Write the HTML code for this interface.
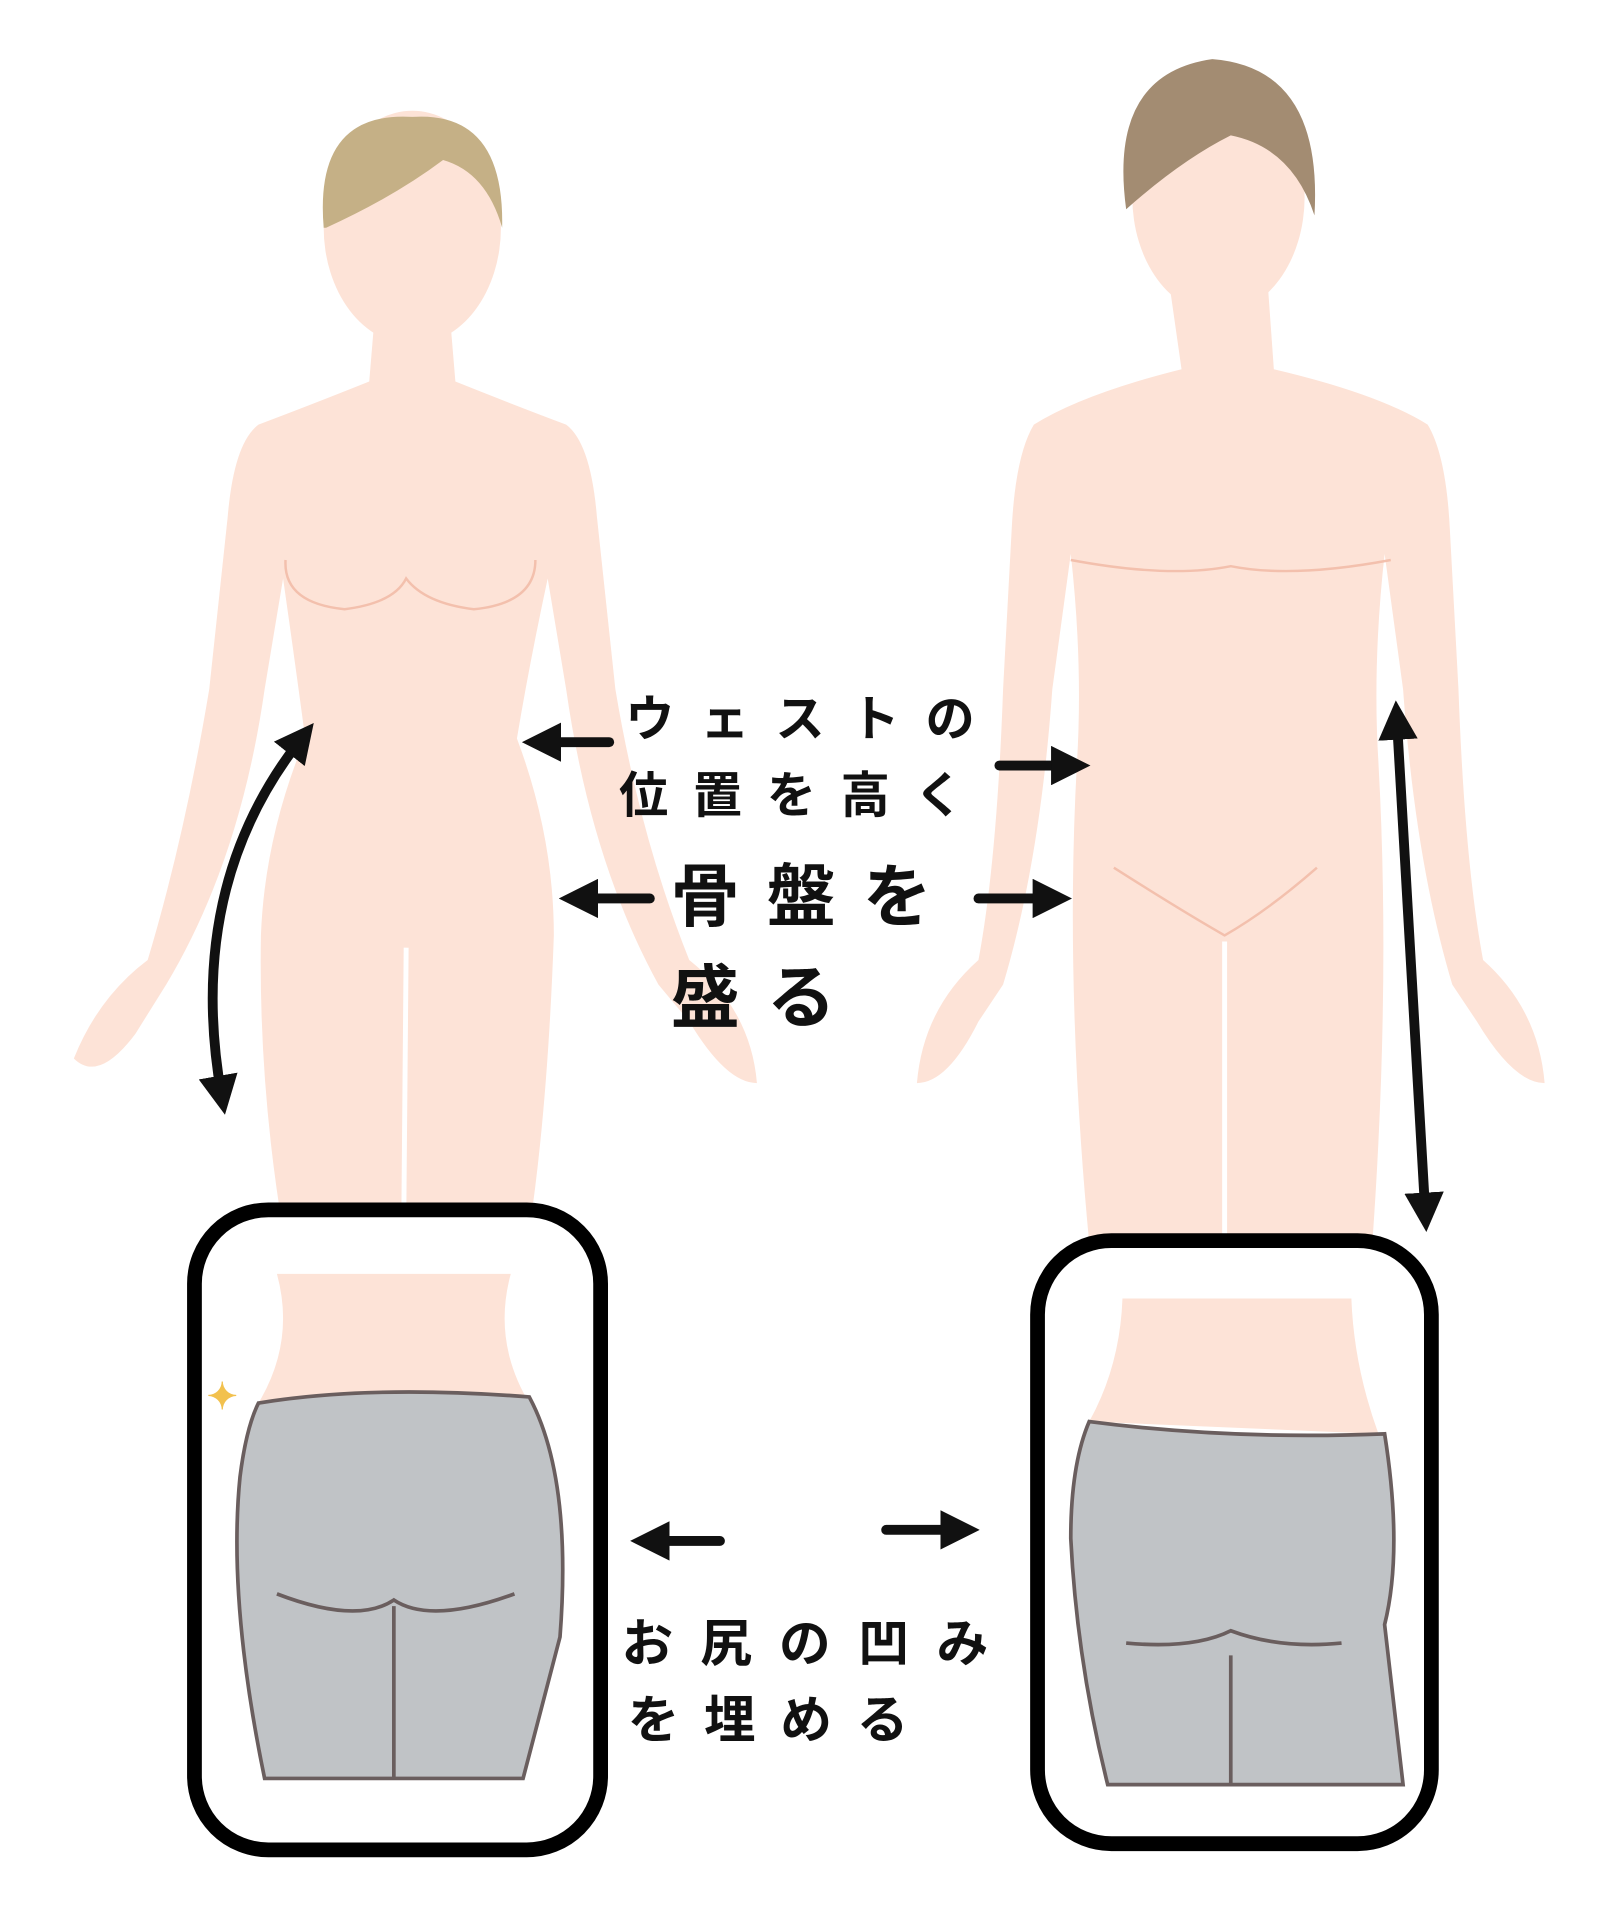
<!DOCTYPE html>
<html><head><meta charset="utf-8"><style>
html,body{margin:0;padding:0;background:#fff;}
svg{display:block}
text{font-family:"Liberation Sans","Noto Sans CJK JP",sans-serif;fill:#111;font-weight:bold}
</style></head><body>
<svg width="1600" height="1920" viewBox="0 0 1300 1560" xmlns="http://www.w3.org/2000/svg">
<defs>
<marker id="ah" viewBox="0 0 10 10" refX="5" refY="5" markerWidth="4" markerHeight="4" orient="auto-start-reverse"><path d="M0,0 L10,5 L0,10 z" fill="#111"/></marker>
</defs>
<g fill="#fde3d7">
<path d="M305,250 L365,250 L370,310 Q420,330 460,345 Q480,360 485,420 L500,560 Q520,680 560,780 Q610,820 615,880 Q590,880 560,830 L535,800 Q480,700 460,560 L445,470 Q430,540 420,600 Q450,680 450,760 Q445,900 430,1000 L230,1000 Q210,880 212,760 Q215,680 248,600 Q240,540 230,470 L215,560 Q195,700 135,800 L110,840 Q80,880 60,860 Q80,810 120,780 Q150,680 170,560 L185,420 Q190,360 210,345 Q250,330 300,310 Z"/>
<ellipse cx="335" cy="185" rx="72" ry="95"/>
<path d="M950,230 L1030,230 L1035,300 Q1120,320 1160,345 Q1175,370 1178,430 L1185,560 Q1190,700 1205,780 Q1250,820 1255,880 Q1230,880 1200,830 L1180,800 Q1150,700 1140,560 L1125,450 Q1115,540 1120,620 Q1130,800 1115,1010 L885,1010 Q865,800 875,620 Q880,540 870,450 L855,560 Q845,700 815,800 L795,830 Q770,880 745,880 Q750,820 795,780 Q810,700 815,560 L822,430 Q825,370 840,345 Q880,320 960,300 Z"/>
<ellipse cx="990" cy="160" rx="70" ry="95"/>
</g>
<path d="M263,185 Q255,90 335,95 Q410,90 408,185 Q395,140 360,130 Q320,160 265,185Z" fill="#c5b086"/>
<path d="M915,170 Q900,60 985,48 Q1075,55 1068,175 Q1050,120 1000,110 Q960,130 915,170Z" fill="#a38c72"/>
<g fill="none" stroke="#f3c0ad" stroke-width="2">
<path d="M232,455 Q230,490 280,495 Q320,490 330,470 Q345,490 385,495 Q435,490 435,455"/>
<path d="M870,455 Q950,470 1000,460 Q1050,470 1130,455"/>
<path d="M905,705 Q960,740 995,760 Q1030,740 1070,705"/>
</g>
<g stroke="#fff" stroke-width="4" fill="none">
<path d="M330,770 L328,1000"/>
<path d="M995,765 L995,1010"/>
</g>
<rect x="158" y="983" width="330" height="520" rx="60" fill="#fff" stroke="#000" stroke-width="12"/>
<rect x="843" y="1008" width="320" height="490" rx="60" fill="#fff" stroke="#000" stroke-width="12"/>
<path d="M225,1035 L415,1035 Q400,1090 430,1140 L210,1140 Q240,1090 225,1035Z" fill="#fde3d7"/>
<path d="M210,1140 Q300,1125 430,1135 Q465,1200 455,1330 L425,1445 L215,1445 Q185,1300 195,1200 Q200,1160 210,1140Z" fill="#c0c3c6" stroke="#6a5e5e" stroke-width="3"/>
<path d="M320,1305 L320,1445 M225,1295 Q290,1320 320,1300 Q350,1320 418,1295" stroke="#6a5e5e" stroke-width="3" fill="none"/>
<path d="M912,1055 L1098,1055 Q1100,1110 1120,1165 L885,1155 Q910,1110 912,1055Z" fill="#fde3d7"/>
<path d="M885,1155 Q1000,1170 1125,1165 Q1140,1260 1125,1320 L1140,1450 L900,1450 Q875,1350 870,1250 Q870,1190 885,1155Z" fill="#c0c3c6" stroke="#6a5e5e" stroke-width="3"/>
<path d="M1000,1345 L1000,1450 M915,1335 Q970,1340 1000,1325 Q1040,1340 1090,1335" stroke="#6a5e5e" stroke-width="3" fill="none"/>
<text x="168" y="1145" font-size="30" style="fill:#f2c14e">✦</text>
<g stroke="#111" stroke-width="8" fill="none" stroke-linecap="round">
<path d="M245,600 Q150,720 180,890" marker-start="url(#ah)" marker-end="url(#ah)"/>
<line x1="495" y1="603" x2="440" y2="603" marker-end="url(#ah)"/>
<line x1="812" y1="622" x2="870" y2="622" marker-end="url(#ah)"/>
<line x1="528" y1="730" x2="470" y2="730" marker-end="url(#ah)"/>
<line x1="795" y1="730" x2="855" y2="730" marker-end="url(#ah)"/>
<line x1="1135" y1="585" x2="1158" y2="985" marker-start="url(#ah)" marker-end="url(#ah)"/>
<line x1="585" y1="1252" x2="528" y2="1252" marker-end="url(#ah)"/>
<line x1="720" y1="1243" x2="780" y2="1243" marker-end="url(#ah)"/>
</g>
<text x="508" y="598" font-size="40" letter-spacing="21">ウェストの</text>
<text x="503" y="660" font-size="40" letter-spacing="20">位置を高く</text>
<text x="545" y="748" font-size="56" letter-spacing="22">骨盤を</text>
<text x="545" y="830" font-size="56" letter-spacing="22">盛る</text>
<text x="505" y="1350" font-size="42" letter-spacing="22">お尻の凹み</text>
<text x="510" y="1412" font-size="42" letter-spacing="20">を埋める</text>
</svg>
</body></html>
